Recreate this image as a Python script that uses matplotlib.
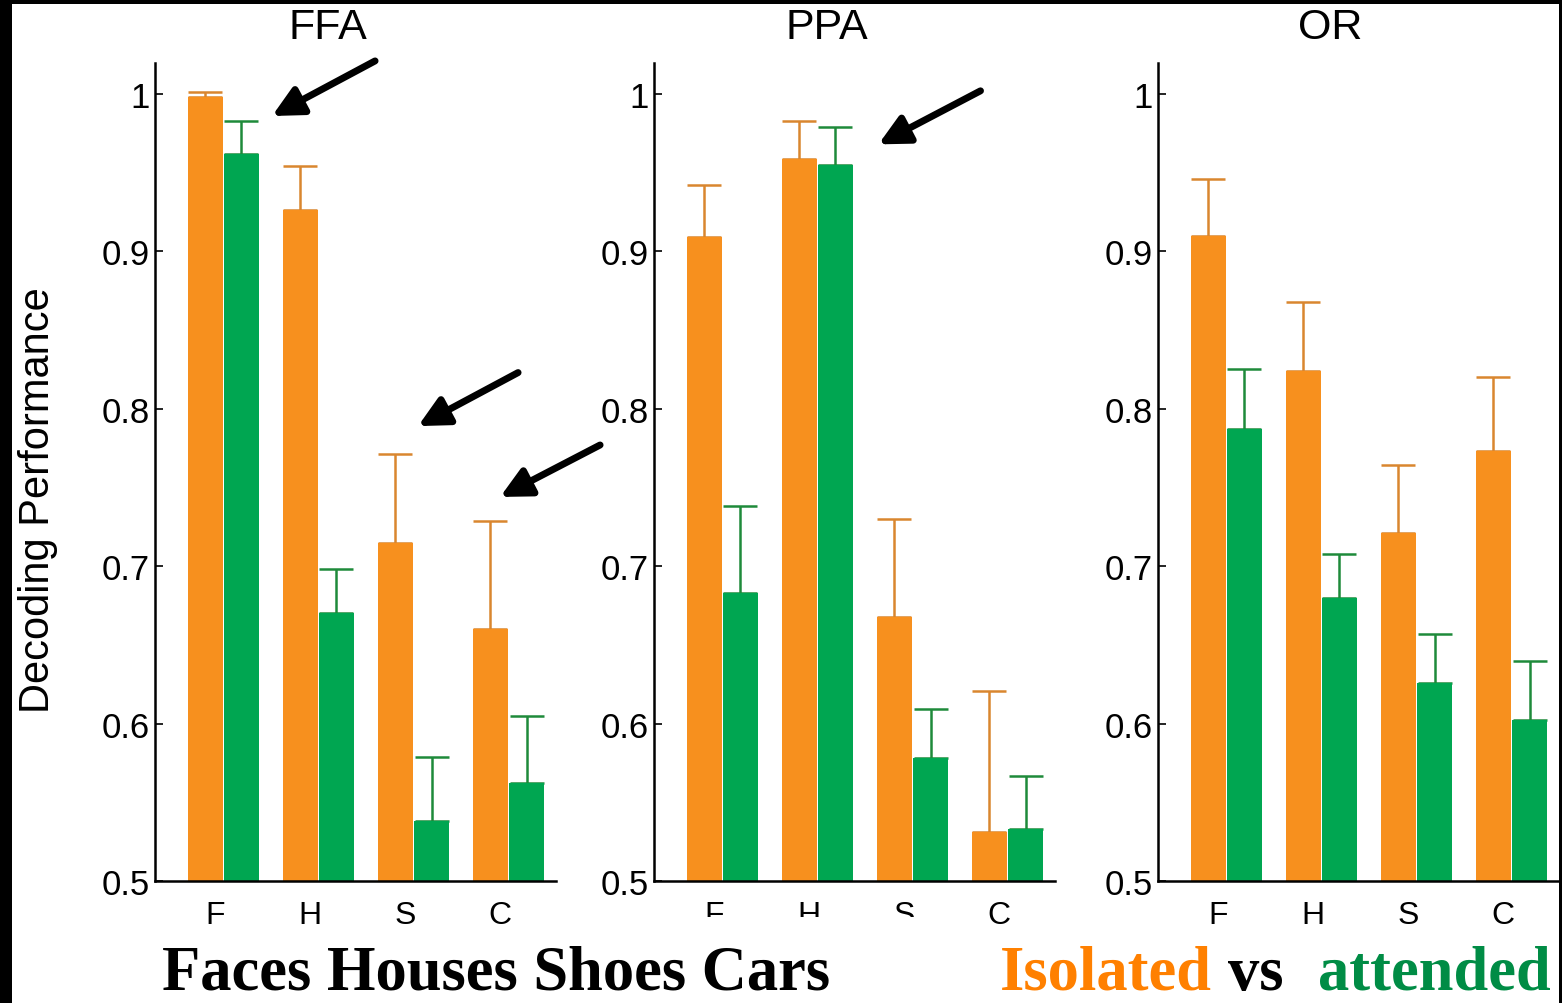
import numpy as np
import matplotlib
matplotlib.use("Agg")
import matplotlib.pyplot as plt
from matplotlib.patches import Rectangle

plt.rcParams['font.family'] = ['Liberation Sans', 'DejaVu Sans']

# decoding performance per region: Faces, Houses, Shoes, Cars
categories = ['F', 'H', 'S', 'C']
regions = ['FFA', 'PPA', 'OR']

isolated = {
    'FFA': [0.998, 0.926, 0.715, 0.660],
    'PPA': [0.909, 0.959, 0.668, 0.531],
    'OR':  [0.910, 0.824, 0.721, 0.773],
}
isolated_err = {
    'FFA': [0.003, 0.028, 0.056, 0.069],
    'PPA': [0.033, 0.024, 0.062, 0.090],
    'OR':  [0.036, 0.044, 0.043, 0.047],
}
attended = {
    'FFA': [0.962, 0.670, 0.538, 0.562],
    'PPA': [0.683, 0.955, 0.578, 0.533],
    'OR':  [0.787, 0.680, 0.626, 0.602],
}
attended_err = {
    'FFA': [0.021, 0.028, 0.041, 0.043],
    'PPA': [0.055, 0.024, 0.031, 0.034],
    'OR':  [0.038, 0.028, 0.031, 0.038],
}

ORANGE = '#F7901E'
GREEN = '#00A651'
ORANGE_ERR = '#D9862F'
GREEN_ERR = '#1E8A3A'

W, H = 1562, 1004
fig = plt.figure(figsize=(W / 100, H / 100), dpi=100)

ax_left = [155, 654, 1158]
ax_bottom = 882
ax_top = 63.5
ax_width = 401

x = np.arange(1, len(categories) + 1)
bw = 0.37

axes = []
for reg, left in zip(regions, ax_left):
    ax = fig.add_axes([left / W, 1 - ax_bottom / H, ax_width / W,
                       (ax_bottom - ax_top) / H])
    axes.append(ax)
    iso = np.array(isolated[reg])
    att = np.array(attended[reg])
    ax.bar(x - 0.19, iso - 0.5, bw, bottom=0.5, color=ORANGE, zorder=2)
    ax.bar(x + 0.19, att - 0.5, bw, bottom=0.5, color=GREEN, zorder=2)
    ax.errorbar(x - 0.19, iso, yerr=[np.zeros(4), isolated_err[reg]],
                fmt='none', ecolor=ORANGE_ERR, elinewidth=1.8, capsize=12,
                capthick=1.8, zorder=1)
    ax.errorbar(x + 0.19, att, yerr=[np.zeros(4), attended_err[reg]],
                fmt='none', ecolor=GREEN_ERR, elinewidth=1.8, capsize=12,
                capthick=1.8, zorder=1)

    ax.set_xlim(0.28, 4.5)
    ax.set_ylim(0.5, 1.02)
    ax.set_yticks([0.5, 0.6, 0.7, 0.8, 0.9, 1.0])
    ax.set_yticklabels(['0.5', '0.6', '0.7', '0.8', '0.9', '1'])
    ax.set_xticks(x - 0.085)
    ax.set_xticklabels(categories)
    ax.tick_params(axis='y', direction='in', length=6, width=1.2,
                   labelsize=25, pad=4)
    ax.tick_params(axis='x', length=0, labelsize=23, pad=14)
    for s in ['top', 'right']:
        ax.spines[s].set_visible(False)
    for s in ['left', 'bottom']:
        ax.spines[s].set_linewidth(1.8)
    ax.text(0.43, 1.043, reg, transform=ax.transAxes, ha='center',
            va='center', fontsize=31)

fig.text(38 / W, 1 - 500 / H, 'Decoding Performance', rotation=90,
         ha='center', va='center', fontsize=30)

# arrows pointing at the bars of interest
arrow = dict(arrowstyle='-|>', lw=5, color='black', mutation_scale=45,
             shrinkA=0, shrinkB=0)
for ax, tip, tail in [
    (axes[0], (1.512, 0.986), (2.596, 1.021)),
    (axes[0], (3.048, 0.789), (4.101, 0.823)),
    (axes[0], (3.912, 0.744), (4.964, 0.777)),
    (axes[1], (2.642, 0.968), (3.716, 1.002)),
]:
    ax.annotate('', xy=tip, xytext=tail, arrowprops=arrow,
                annotation_clip=False)

# part of the middle panel's tick labels is cut away
fig.add_artist(Rectangle((680 / W, 1 - 942 / H), 280 / W, 24 / H,
                         transform=fig.transFigure, facecolor='white',
                         edgecolor='none', zorder=10))

# black frame on the top, left and right edges
for rx, ry, rw, rh in [(0, H - 5, W, 5), (0, 0, 12, H), (W - 3, 0, 3, H)]:
    fig.add_artist(Rectangle((rx / W, ry / H), rw / W, rh / H,
                             transform=fig.transFigure, facecolor='black',
                             edgecolor='none', zorder=11))

serif = ['Liberation Serif', 'DejaVu Serif']
base = 1 - 990 / H
fs = 45
fig.text(162 / W, base, 'Faces Houses Shoes Cars', family=serif,
         weight='bold', fontsize=fs, color='black', va='baseline')
fig.text(1000 / W, base, 'Isolated', family=serif, weight='bold',
         fontsize=fs, color='#FF8000', va='baseline')
fig.text(1228 / W, base, 'vs', family=serif, weight='bold',
         fontsize=fs, color='black', va='baseline')
fig.text(1318 / W, base, 'attended', family=serif, weight='bold',
         fontsize=fs, color='#008C45', va='baseline')

fig.savefig('out.png', dpi=100)
